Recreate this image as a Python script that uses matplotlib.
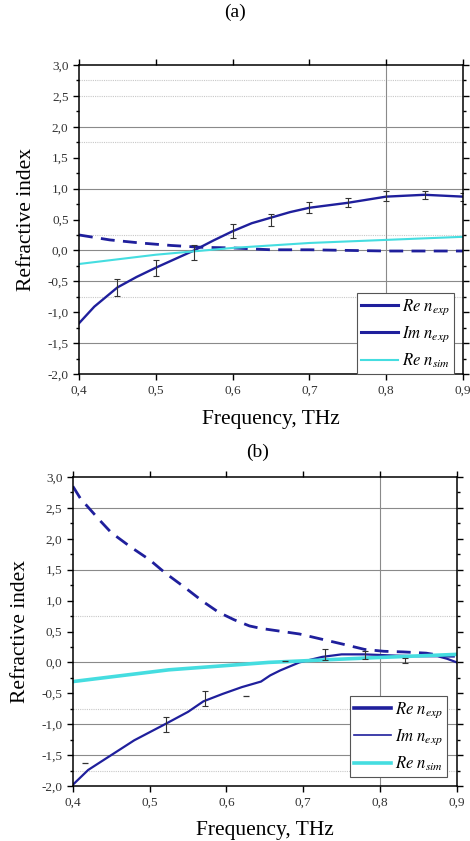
import matplotlib
matplotlib.use("Agg")
import matplotlib.pyplot as plt
from matplotlib.ticker import MultipleLocator, FuncFormatter
from matplotlib.lines import Line2D

plt.rcParams['font.family'] = ['Liberation Serif', 'DejaVu Serif']
plt.rcParams['mathtext.fontset'] = 'stix'

NAVY = "#1f1f9c"
CYAN = "#45dde0"

# ---- panel (a) data ----
a_x_re = [0.40, 0.42, 0.45, 0.475, 0.50, 0.525, 0.55, 0.575, 0.60, 0.625, 0.65, 0.675, 0.70, 0.75, 0.80, 0.85, 0.90]
a_re = [-1.18, -0.91, -0.60, -0.43, -0.28, -0.14, 0.0, 0.16, 0.31, 0.44, 0.53, 0.62, 0.69, 0.77, 0.87, 0.90, 0.87]
a_x_im = [0.40, 0.44, 0.48, 0.52, 0.56, 0.60, 0.65, 0.70, 0.75, 0.80, 0.85, 0.90]
a_im = [0.25, 0.17, 0.12, 0.08, 0.05, 0.04, 0.01, 0.01, 0.0, -0.01, -0.01, -0.01]
a_x_sim = [0.40, 0.50, 0.60, 0.70, 0.80, 0.90]
a_sim = [-0.22, -0.07, 0.04, 0.12, 0.17, 0.22]
a_err_x = [0.45, 0.50, 0.55, 0.60, 0.65, 0.70, 0.75, 0.80, 0.85, 0.90]
a_err_y = [-0.60, -0.29, -0.03, 0.31, 0.49, 0.70, 0.77, 0.88, 0.90, 0.87]
a_err = [0.14, 0.13, 0.12, 0.11, 0.10, 0.09, 0.07, 0.08, 0.065, 0.065]

# ---- panel (b) data ----
b_x_re = [0.40, 0.42, 0.45, 0.48, 0.52, 0.55, 0.57, 0.595, 0.62, 0.645, 0.657, 0.67, 0.695,
          0.725, 0.75, 0.78, 0.82, 0.85, 0.875, 0.887, 0.90]
b_re = [-1.98, -1.74, -1.50, -1.26, -1.0, -0.80, -0.63, -0.51, -0.40, -0.31, -0.21, -0.13, 0.0,
        0.09, 0.13, 0.13, 0.11, 0.10, 0.10, 0.06, 0.0]
b_x_im = [0.40, 0.41, 0.435, 0.45, 0.475, 0.50, 0.52, 0.545, 0.57, 0.59, 0.61, 0.63, 0.645,
          0.695, 0.75, 0.78, 0.805, 0.83, 0.86, 0.885, 0.90]
b_im = [2.85, 2.65, 2.30, 2.10, 1.87, 1.66, 1.45, 1.22, 0.98, 0.81, 0.69, 0.59, 0.55,
        0.46, 0.30, 0.21, 0.18, 0.17, 0.15, 0.10, 0.10]
b_x_sim = [0.40, 0.525, 0.655, 0.78, 0.90]
b_sim = [-0.31, -0.12, 0.0, 0.07, 0.13]
b_err_x = [0.521, 0.572, 0.728, 0.78, 0.833]
b_err_y = [-1.01, -0.59, 0.13, 0.12, 0.03]
b_err = [0.12, 0.12, 0.09, 0.07, 0.04]
b_cap_x = [0.4156, 0.625, 0.676]
b_cap_y = [-1.63, -0.54, 0.03]

xticks = [0.4, 0.5, 0.6, 0.7, 0.8, 0.9]
yticks = [-2.0, -1.5, -1.0, -0.5, 0.0, 0.5, 1.0, 1.5, 2.0, 2.5, 3.0]
labels = [r"$Re\ n_{exp}$", r"$Im\ n_{exp}$", r"$Re\ n_{sim}$"]

fig = plt.figure(figsize=(4.7, 8.41), dpi=100)

comma = FuncFormatter(lambda v, p: f"{v:.1f}".replace('.', ','))


def style(ax, solid_grid, dotted_grid, ypad, xpad):
    ax.set_xlim(0.4, 0.9)
    ax.set_ylim(-2.0, 3.0)
    ax.set_xticks(xticks)
    ax.set_yticks(yticks)
    ax.xaxis.set_major_formatter(comma)
    ax.yaxis.set_major_formatter(comma)
    ax.yaxis.set_minor_locator(MultipleLocator(0.25))
    ax.tick_params(which='both', direction='out', top=True, right=True,
                   labelsize=9.5, labelcolor='#333333', width=1.0)
    ax.tick_params(which='major', length=4)
    ax.tick_params(which='minor', length=2.5)
    for s in ax.spines.values():
        s.set_linewidth(1.1)
    for g in solid_grid:
        ax.axhline(g, color='#8a8a8a', lw=0.8, zorder=0)
    for g in dotted_grid:
        ax.axhline(g, color='#c8c8c8', lw=0.8, ls=(0, (1, 1)), zorder=0)
    ax.axvline(0.8, color='#8a8a8a', lw=0.8, zorder=0)
    ax.set_ylabel("Refractive index", fontsize=15.5, labelpad=ypad)
    ax.set_xlabel("Frequency, THz", fontsize=15.5, labelpad=xpad)


def legend(ax, handles, anchor):
    leg = ax.legend(handles, labels, loc='lower right', bbox_to_anchor=anchor,
                    borderaxespad=0, fancybox=False, edgecolor='#555555',
                    framealpha=1, fontsize=12, handlelength=2.2,
                    handletextpad=0.25, borderpad=0.25, labelspacing=0.45)
    leg.get_frame().set_linewidth(0.8)


# ---- (a) ----
axa = fig.add_axes([0.168, 0.5553, 0.817, 0.3674])
style(axa, [2.0, 1.0, 0.0, -0.5, -1.5], [2.75, 2.5, 1.75, 0.25, -0.75], ypad=8.5, xpad=10)
axa.plot(a_x_re, a_re, color=NAVY, lw=1.7)
axa.plot(a_x_im, a_im, color=NAVY, lw=2.0, ls=(0, (5, 3)))
axa.plot(a_x_sim, a_sim, color=CYAN, lw=1.5)
axa.errorbar(a_err_x, a_err_y, yerr=a_err, fmt='none', ecolor='#333333',
             elinewidth=0.8, capsize=2.5, capthick=0.8)
legend(axa, [Line2D([], [], color=NAVY, lw=2.2), Line2D([], [], color=NAVY, lw=2.2),
             Line2D([], [], color=CYAN, lw=1.5)], (0.977, 0.0))
fig.text(0.5, 0.985, "(a)", ha='center', va='center', fontsize=14)

# ---- (b) ----
axb = fig.add_axes([0.155, 0.0654, 0.817, 0.3674])
style(axb, [2.5, 1.5, 0.0, -1.0, -1.5], [0.75, -0.75, -1.75], ypad=8.5, xpad=9)
axb.plot(b_x_re, b_re, color=NAVY, lw=1.6)
axb.plot(b_x_im, b_im, color=NAVY, lw=2.0, ls=(0, (5, 3)))
axb.plot(b_x_sim, b_sim, color=CYAN, lw=2.6)
axb.errorbar(b_err_x, b_err_y, yerr=b_err, fmt='none', ecolor='#333333',
             elinewidth=0.8, capsize=2.5, capthick=0.8)
axb.plot(b_cap_x, b_cap_y, ls='none', marker='_', ms=5, mew=0.9, color='#333333')
legend(axb, [Line2D([], [], color=NAVY, lw=2.6), Line2D([], [], color=NAVY, lw=1.2),
             Line2D([], [], color=CYAN, lw=2.6)], (0.974, 0.029))
fig.text(0.547, 0.4625, "(b)", ha='center', va='center', fontsize=14)

fig.savefig("out.png", dpi=100)
